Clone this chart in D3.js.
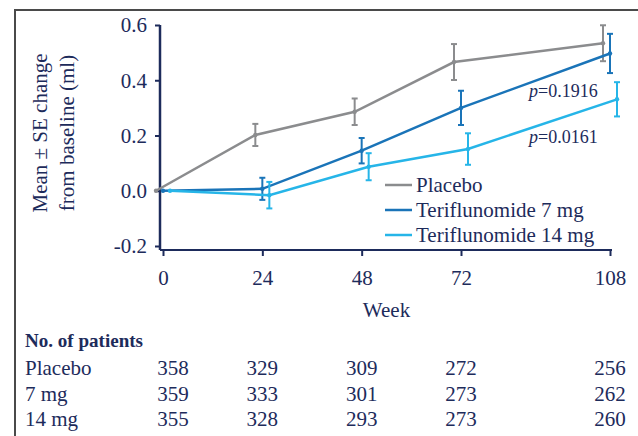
<!DOCTYPE html>
<html>
<head>
<meta charset="utf-8">
<script src="https://cdn.jsdelivr.net/npm/d3@7"></script>
<style>
  html, body { margin: 0; padding: 0; background: #fff; }
  svg { display: block; }
  text { font-family: "Liberation Serif", "Times New Roman", serif; fill: #1d2b5b; }
</style>
</head>
<body>
<div id="chart"></div>
<script>
// data
const weeks = [0, 24, 48, 72, 108];
const yTicks = [-0.2, 0.0, 0.2, 0.4, 0.6];
const seriesNames = ['Placebo', 'Teriflunomide 7 mg', 'Teriflunomide 14 mg'];
const placeboMean = [0.0, 0.202, 0.286, 0.466, 0.534];
const placeboSE = [0.0, 0.040, 0.048, 0.065, 0.065];
const mg7Mean = [0.0, 0.007, 0.145, 0.300, 0.497];
const mg7SE = [0.0, 0.040, 0.046, 0.062, 0.071];
const mg14Mean = [0.0, -0.016, 0.087, 0.151, 0.331];
const mg14SE = [0.0, 0.048, 0.049, 0.057, 0.062];
const pLabels = ['0.1916', '0.0161'];
const tableRows = ['Placebo', '7 mg', '14 mg'];
const placeboN = [358, 329, 309, 272, 256];
const mg7N = [359, 333, 301, 273, 262];
const mg14N = [355, 328, 293, 273, 260];

const width = 638, height = 436;
const navy = '#1d2b5b';
const colors = ['#8b8c8e', '#1a74b8', '#26b5e8'];
const dodge = [-7, 0, 7];

const series = [
  { name: seriesNames[0], mean: placeboMean, se: placeboSE },
  { name: seriesNames[1], mean: mg7Mean, se: mg7SE },
  { name: seriesNames[2], mean: mg14Mean, se: mg14SE }
];

const svg = d3.select('#chart').append('svg')
  .attr('width', width)
  .attr('height', height);

// outer frame (left + top)
svg.append('path')
  .attr('d', `M15,${height} L15,10 L${width},10`)
  .attr('fill', 'none')
  .attr('stroke', '#4a4a4a')
  .attr('stroke-width', 2);

const x = d3.scaleLinear().domain([0, 108]).range([163, 610]);
const y = d3.scaleLinear().domain([-0.2, 0.6]).range([246, 25]);
const xAxisY = 250;

// y axis
const yAxis = svg.append('g')
  .attr('transform', 'translate(160,0)')
  .call(d3.axisLeft(y).tickValues(yTicks).tickFormat(d => d.toFixed(1)).tickSize(5).tickPadding(8).tickSizeOuter(0));
yAxis.select('.domain').remove();
yAxis.append('line')
  .attr('x1', 0).attr('x2', 0)
  .attr('y1', y(0.6)).attr('y2', xAxisY)
  .attr('stroke', navy).attr('stroke-width', 2.5);
yAxis.selectAll('.tick line').attr('stroke', navy).attr('stroke-width', 2);
yAxis.selectAll('.tick text')
  .style('font-size', '21px')
  .attr('fill', navy)
  .attr('dy', '0.33em');

// x axis
const xAxis = svg.append('g')
  .attr('transform', `translate(0,${xAxisY})`)
  .call(d3.axisBottom(x).tickValues(weeks).tickSize(6).tickPadding(20).tickSizeOuter(0));
xAxis.select('.domain').remove();
xAxis.append('line')
  .attr('x1', 160).attr('x2', x(108) + 2)
  .attr('y1', 0).attr('y2', 0)
  .attr('stroke', navy).attr('stroke-width', 2);
xAxis.selectAll('.tick line').attr('stroke', navy).attr('stroke-width', 2);
xAxis.selectAll('.tick text')
  .style('font-size', '21px')
  .attr('fill', navy)
  .attr('dy', '0.71em')
  .attr('y', 20);

// axis titles
svg.append('text')
  .attr('x', (x(0) + x(108)) / 2)
  .attr('y', 317)
  .attr('text-anchor', 'middle')
  .style('font-size', '21px')
  .text('Week');

const yTitle = svg.append('text')
  .attr('transform', 'translate(47,133) rotate(-90)')
  .attr('text-anchor', 'middle')
  .style('font-size', '21px');
yTitle.append('tspan').attr('x', 0).attr('y', 0).text('Mean ± SE change');
yTitle.append('tspan').attr('x', 0).attr('y', 27).text('from baseline (ml)');

// series
const line = d3.line()
  .x(d => d.x)
  .y(d => d.y);

series.forEach((s, si) => {
  const pts = weeks.map((w, i) => ({
    x: x(w) + dodge[si],
    y: y(s.mean[i]),
    lo: y(s.mean[i] - s.se[i]),
    hi: y(s.mean[i] + s.se[i]),
    se: s.se[i]
  }));
  const g = svg.append('g').attr('class', 'series');

  g.append('path')
    .datum(pts)
    .attr('d', line)
    .attr('fill', 'none')
    .attr('stroke', colors[si])
    .attr('stroke-width', 2.5);

  const bars = g.selectAll('.err')
    .data(pts.filter(p => p.se > 0))
    .enter().append('g')
    .attr('class', 'err');
  bars.append('line')
    .attr('x1', d => d.x).attr('x2', d => d.x)
    .attr('y1', d => d.lo).attr('y2', d => d.hi)
    .attr('stroke', colors[si]).attr('stroke-width', 2);
  bars.append('line')
    .attr('x1', d => d.x - 3).attr('x2', d => d.x + 3)
    .attr('y1', d => d.hi).attr('y2', d => d.hi)
    .attr('stroke', colors[si]).attr('stroke-width', 2);
  bars.append('line')
    .attr('x1', d => d.x - 3).attr('x2', d => d.x + 3)
    .attr('y1', d => d.lo).attr('y2', d => d.lo)
    .attr('stroke', colors[si]).attr('stroke-width', 2);

  g.selectAll('circle')
    .data(pts)
    .enter().append('circle')
    .attr('cx', d => d.x)
    .attr('cy', d => d.y)
    .attr('r', 2.2)
    .attr('fill', colors[si]);
});

// p values
const pY = [97, 143];
pLabels.forEach((p, i) => {
  const t = svg.append('text')
    .attr('x', 529)
    .attr('y', pY[i])
    .style('font-size', '18px');
  t.append('tspan').style('font-style', 'italic').text('p');
  t.append('tspan').text('=' + p);
});

// legend
const legend = svg.append('g').attr('transform', 'translate(385,185)');
const items = legend.selectAll('.legend')
  .data(seriesNames)
  .enter().append('g')
  .attr('class', 'legend')
  .attr('transform', (d, i) => `translate(0,${i * 25})`);
items.append('line')
  .attr('x1', 0).attr('x2', 27)
  .attr('y1', 0).attr('y2', 0)
  .attr('stroke', (d, i) => colors[i])
  .attr('stroke-width', 2.5);
items.append('text')
  .attr('x', 31)
  .attr('y', 7)
  .style('font-size', '21px')
  .text(d => d);

// patients table
svg.append('text')
  .attr('x', 25)
  .attr('y', 347)
  .style('font-size', '19px')
  .style('font-weight', 'bold')
  .attr('textLength', 118)
  .attr('lengthAdjust', 'spacingAndGlyphs')
  .text('No. of patients');

const counts = [placeboN, mg7N, mg14N];
const rowY = [375, 401, 426];
const colX = weeks.map((w, i) => x(w) + (i === 0 ? 10 : 0));
tableRows.forEach((r, ri) => {
  svg.append('text')
    .attr('x', 25)
    .attr('y', rowY[ri])
    .style('font-size', '21px')
    .text(r);
  svg.selectAll(null)
    .data(counts[ri])
    .enter().append('text')
    .attr('x', (d, i) => colX[i])
    .attr('y', rowY[ri])
    .attr('text-anchor', 'middle')
    .style('font-size', '21px')
    .text(d => d);
});
</script>
</body>
</html>
